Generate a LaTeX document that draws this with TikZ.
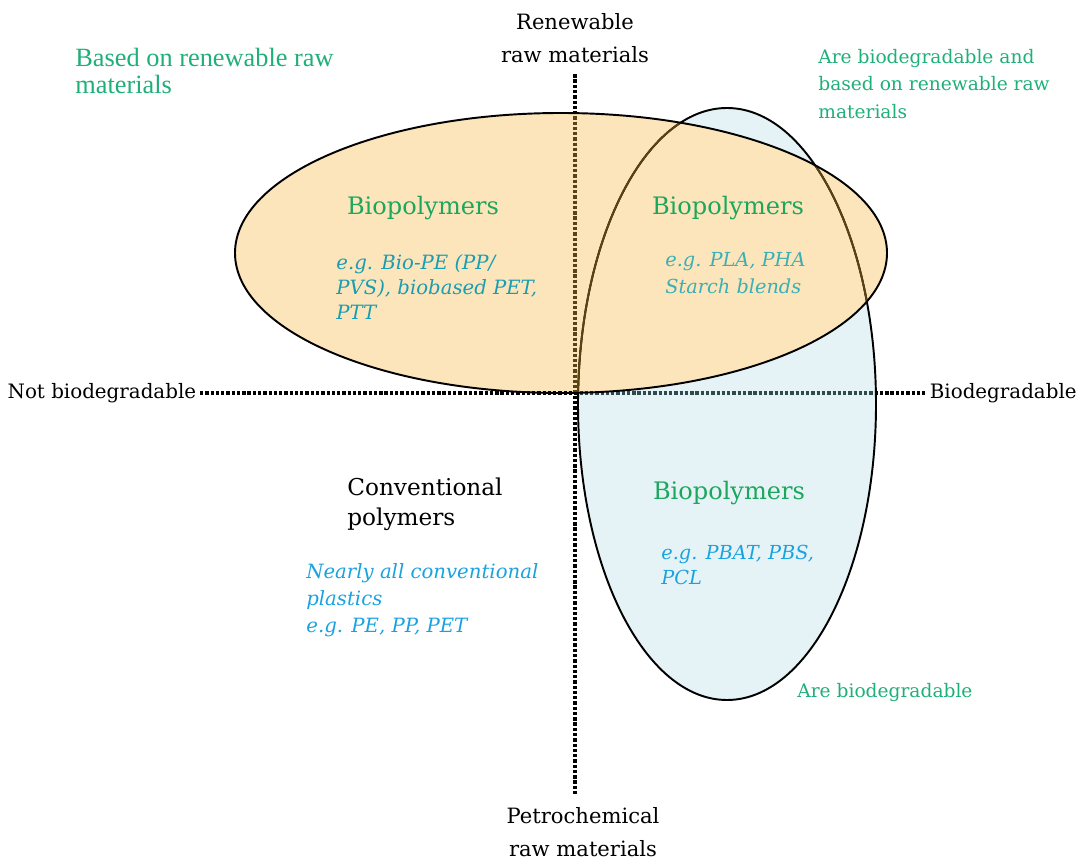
\documentclass[tikz,border=0pt]{standalone}
\usepackage{fontspec}
\setmainfont{DejaVu Serif}
\newfontfamily\narrowserif{Liberation Serif}
\usepackage{tikz}
\definecolor{labgreen}{HTML}{1FAF78}
\definecolor{biogreen}{HTML}{1CA65E}
\definecolor{egteal}{HTML}{1A9DB2}
\definecolor{eglight}{HTML}{3AAFB5}
\definecolor{egblue}{HTML}{1AA2E0}
\definecolor{orangefill}{HTML}{FCE5BA}
\definecolor{bluefill}{HTML}{E5F3F6}
\definecolor{linebrown}{HTML}{5A4214}
\definecolor{lineteal}{HTML}{2E4A4C}
\tikzset{>=latex,
  axisline/.style={line width=1.9pt,dash pattern=on 1.9pt off 1.1pt},
  setline/.style={line width=1.1pt}}

\begin{document}
\begin{tikzpicture}[x=0.02cm,y=-0.02cm]
\useasboundingbox (0,0) rectangle (1085,864);
% the two sets, filled first
\fill[bluefill] (727,404) ellipse (149 and 296);
\fill[orangefill] (561,253) ellipse (326 and 140);
\begin{scope}[every node/.style={align=center,inner sep=2pt,font=\fontsize{12}{18.5}\selectfont}]
\node (ren) at (575,38) {Renewable\\raw materials};
\node (pet) at (583,832) {Petrochemical\\raw materials};
\node[anchor=east,font=\fontsize{11.3}{14}\selectfont] (nbio) at (200,393) {Not biodegradable};
\node[anchor=west,font=\fontsize{11.3}{14}\selectfont] (bio) at (926,393) {Biodegradable};
\end{scope}
% axes
\path [axisline,shorten <=4.5pt,shorten >=5.5pt] (ren.south -| 575,0) edge (pet.north -| 575,0);
\path [axisline] (nbio.east) edge (bio.west);
\begin{scope}
\clip (561,253) ellipse (326 and 140);
\path [axisline,linebrown,shorten <=4.5pt,shorten >=5.5pt] (ren.south -| 575,0) edge (pet.north -| 575,0);
\end{scope}
\begin{scope}
\clip (727,404) ellipse (149 and 296);
\path [axisline,lineteal] (nbio.east) edge (bio.west);
\end{scope}
% outlines
\draw[setline] (727,404) ellipse (149 and 296);
\begin{scope}
\clip (561,253) ellipse (326 and 140);
\draw[setline,linebrown] (727,404) ellipse (149 and 296);
\end{scope}
\draw[setline] (561,253) ellipse (326 and 140);
\begin{scope}[every node/.style={align=left,anchor=west,inner sep=0pt}]
\node[text=labgreen,font=\narrowserif\fontsize{15}{15.4}\selectfont] (lbren) at (75,71) {Based on renewable raw\\materials};
\node[text=labgreen,font=\fontsize{10.6}{15.5}\selectfont] (lbboth) at (818,84) {Are biodegradable and\\based on renewable raw\\materials};
\node[text=labgreen,font=\fontsize{10.6}{15.5}\selectfont] (lbbio) at (797,692) {Are biodegradable};
\node[font=\fontsize{13.2}{17}\selectfont] (conv) at (347,504) {Conventional\\polymers};
\node[text=egblue,font=\itshape\fontsize{11.2}{15.4}\selectfont] (egconv) at (306,600) {Nearly all conventional\\plastics\\e.g. PE, PP, PET};
\node[text=egteal,font=\itshape\fontsize{11.2}{14.3}\selectfont] (egorange) at (336,287) {e.g. Bio-PE (PP/\\PVS), biobased PET,\\PTT};
\node[text=eglight,font=\itshape\fontsize{11}{15.4}\selectfont] (egboth) at (665,273) {e.g. PLA, PHA\\Starch blends};
\node[text=egblue,font=\itshape\fontsize{11}{13.7}\selectfont] (egbio) at (661,565) {e.g. PBAT, PBS,\\PCL};
\end{scope}
\begin{scope}[every node/.style={text=biogreen,inner sep=0pt,font=\fontsize{13.7}{15}\selectfont}]
\node (bporange) at (423,208) {Biopolymers};
\node (bpboth) at (728,208) {Biopolymers};
\node (bpbio) at (729,493) {Biopolymers};
\end{scope}
\end{tikzpicture}
\end{document}
